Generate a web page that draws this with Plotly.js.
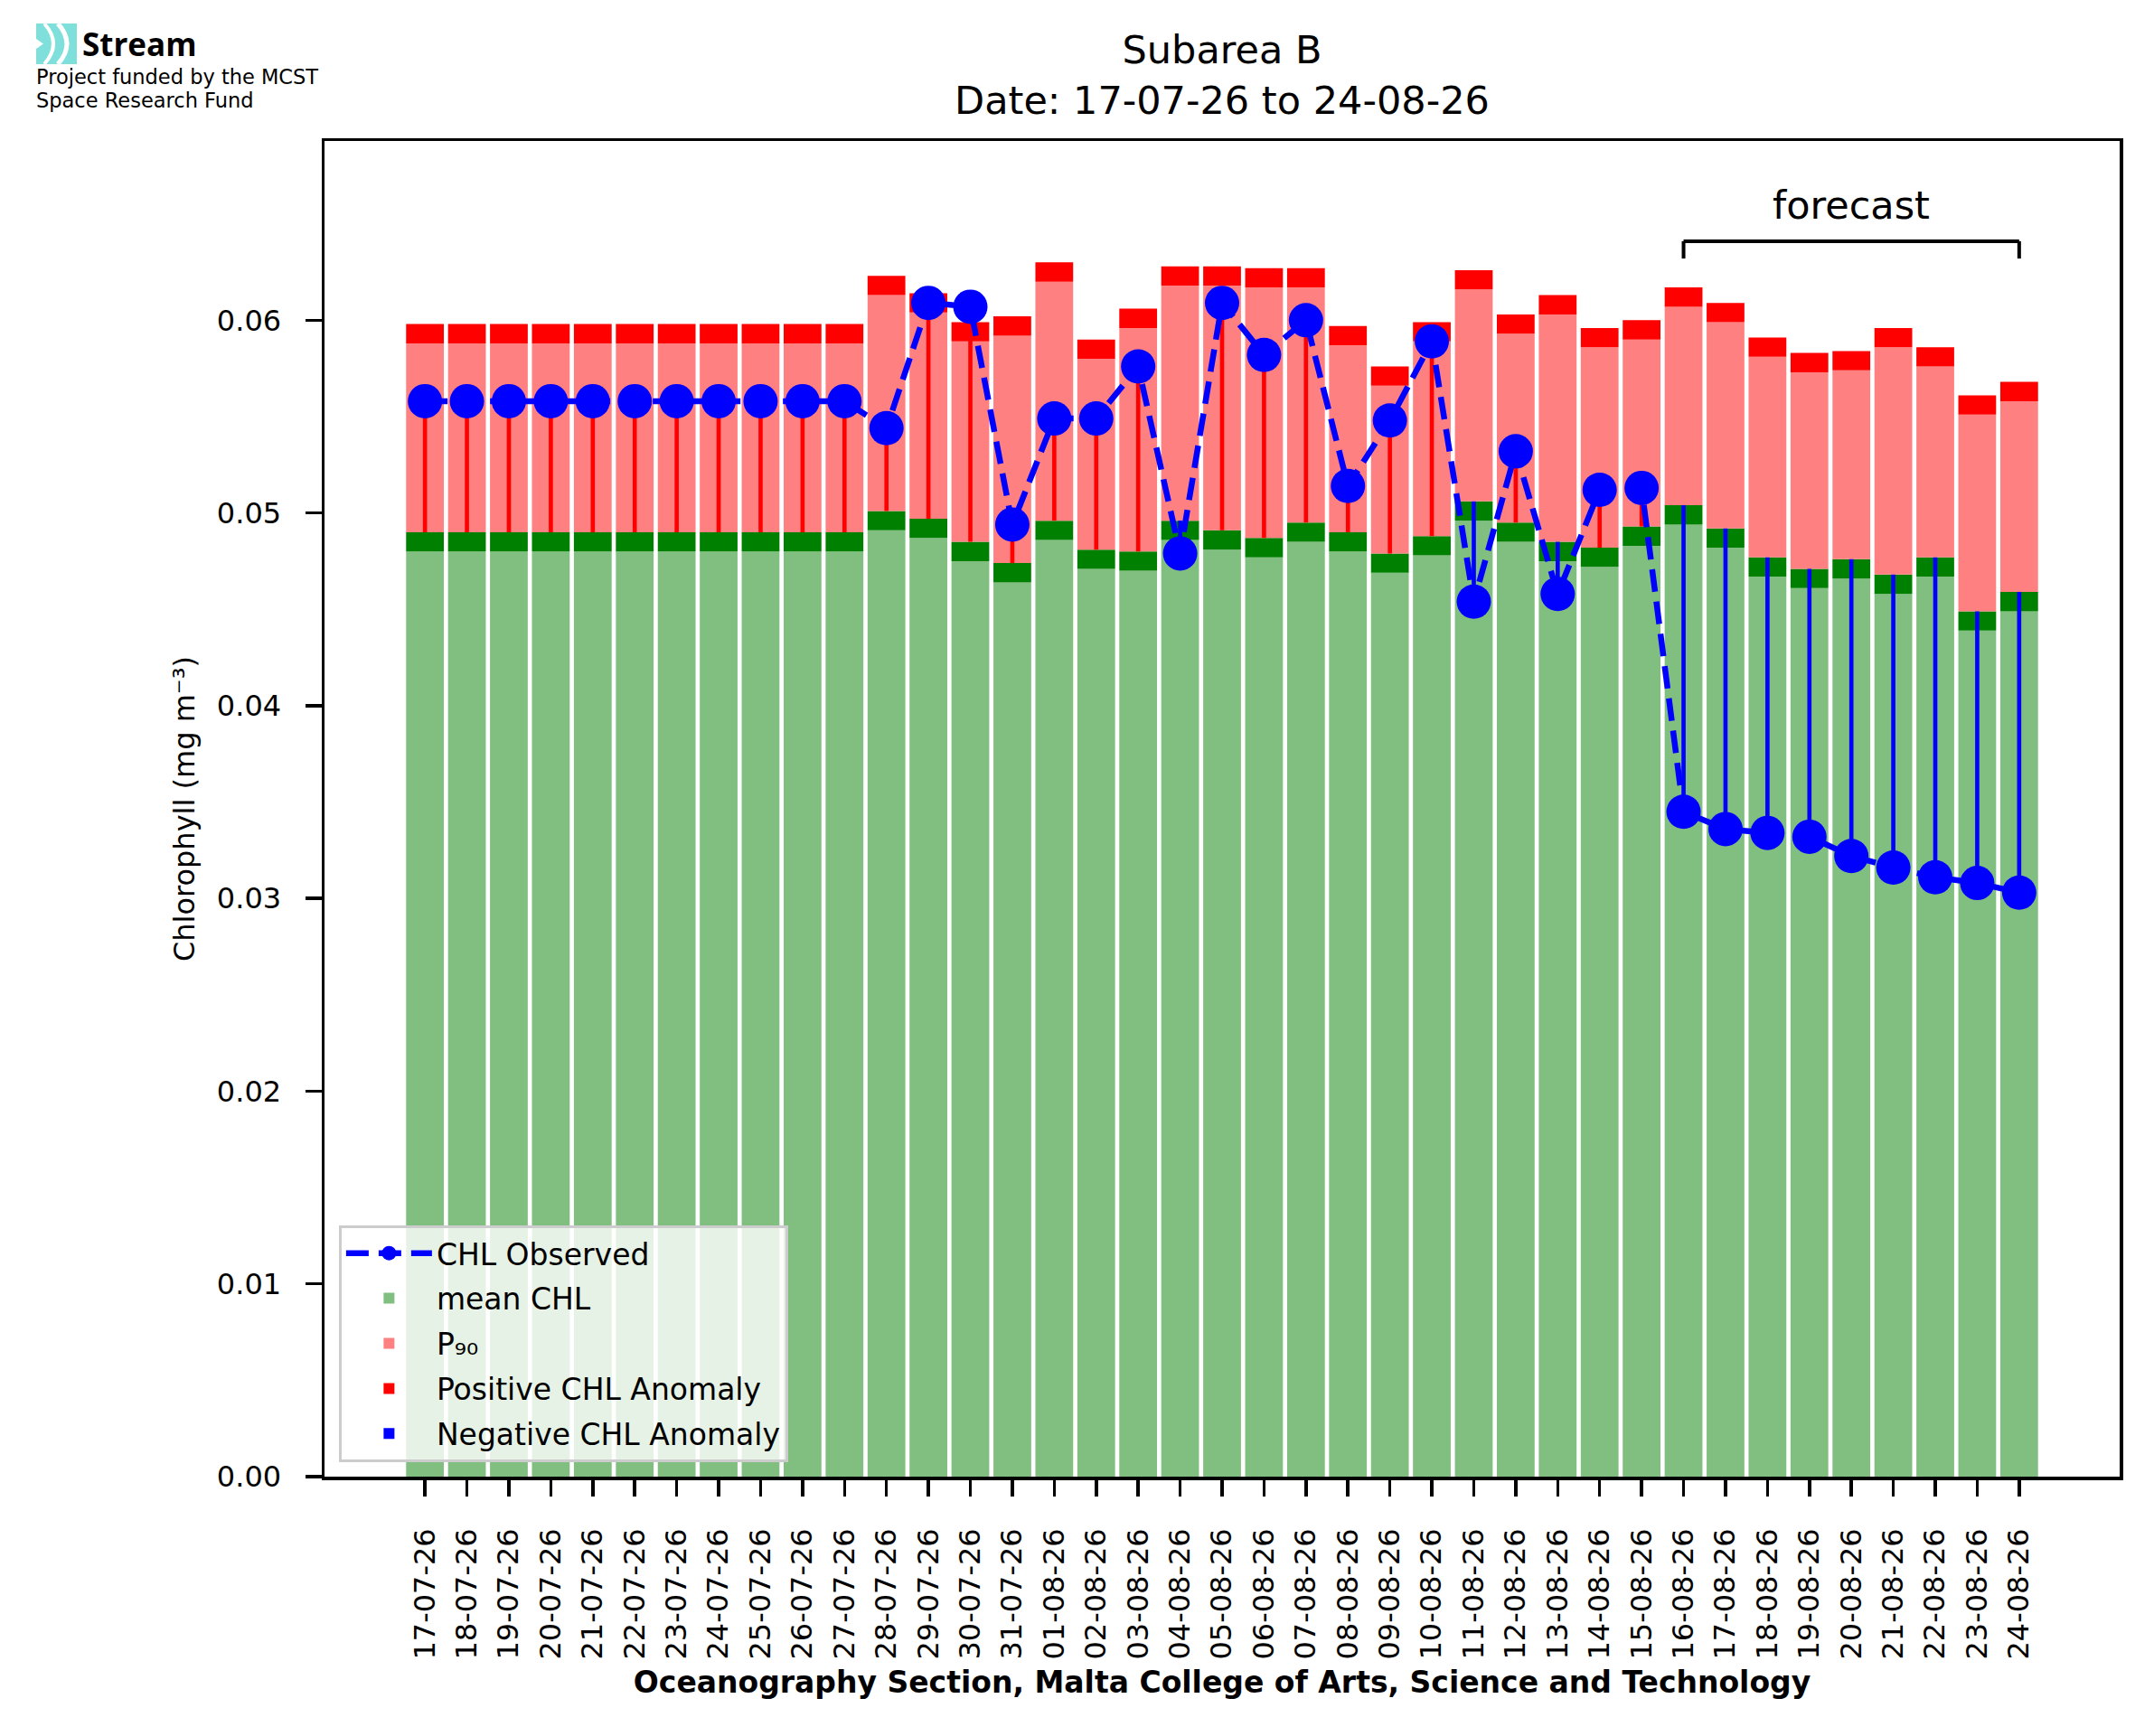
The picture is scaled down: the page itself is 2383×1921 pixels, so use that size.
<!DOCTYPE html>
<html>
<head>
<meta charset="utf-8">
<script src="https://cdn.plot.ly/plotly-3.0.1.min.js"></script>
<style>
  html, body { margin: 0; padding: 0; background: #fff; }
</style>
</head>
<body>
<div id="plot" style="width:2383px;height:1921px;"></div>
<script>
// values (mg m-3)
const dates = [
  '17-07-26', '18-07-26', '19-07-26', '20-07-26', '21-07-26', '22-07-26', '23-07-26',
  '24-07-26', '25-07-26', '26-07-26', '27-07-26', '28-07-26', '29-07-26', '30-07-26',
  '31-07-26', '01-08-26', '02-08-26', '03-08-26', '04-08-26', '05-08-26', '06-08-26',
  '07-08-26', '08-08-26', '09-08-26', '10-08-26', '11-08-26', '12-08-26', '13-08-26',
  '14-08-26', '15-08-26', '16-08-26', '17-08-26', '18-08-26', '19-08-26', '20-08-26',
  '21-08-26', '22-08-26', '23-08-26', '24-08-26'
]
const chlObserved = [
  0.0558, 0.0558, 0.0558, 0.0558, 0.0558, 0.0558, 0.0558,
  0.0558, 0.0558, 0.0558, 0.0558, 0.0544, 0.0609, 0.0607,
  0.0494, 0.0549, 0.0549, 0.0576, 0.0479, 0.0609, 0.0582,
  0.0600, 0.0514, 0.0548, 0.0589, 0.0454, 0.0532, 0.0458,
  0.0512, 0.0513, 0.0345, 0.0336, 0.0334, 0.0332, 0.0322,
  0.0316, 0.0311, 0.0308, 0.0303
]
const chlMean = [
  0.0490, 0.0490, 0.0490, 0.0490, 0.0490, 0.0490, 0.0490,
  0.0490, 0.0490, 0.0490, 0.0490, 0.0501, 0.0497, 0.0485,
  0.0474, 0.0496, 0.0481, 0.0480, 0.0496, 0.0491, 0.0487,
  0.0495, 0.0490, 0.0479, 0.0488, 0.0506, 0.0495, 0.0485,
  0.0482, 0.0493, 0.0504, 0.0492, 0.0477, 0.0471, 0.0476,
  0.0468, 0.0477, 0.0449, 0.0459
]
const chlP90 = [
  0.0598, 0.0598, 0.0598, 0.0598, 0.0598, 0.0598, 0.0598,
  0.0598, 0.0598, 0.0598, 0.0598, 0.0623, 0.0614, 0.0599,
  0.0602, 0.0630, 0.0590, 0.0606, 0.0628, 0.0628, 0.0627,
  0.0627, 0.0597, 0.0576, 0.0599, 0.0626, 0.0603, 0.0613,
  0.0596, 0.0600, 0.0617, 0.0609, 0.0591, 0.0583, 0.0584,
  0.0596, 0.0586, 0.0561, 0.0568
]
const forecastFrom = '16-08-26'
const subarea = 'Subarea B'

const BAND = 0.001 // thickness of the dark cap on each bar
const FONT = 'DejaVu Sans, sans-serif'
const W = 2383
const H = 1921
const margin = { l: 359, r: 38, t: 156, b: 287, pad: 0 }

const n = dates.length
const fi = dates.indexOf(forecastFrom)

// pixel -> paper helpers for the things that sit outside the axes
const px = x => (x - margin.l) / (W - margin.l - margin.r)
const py = y => (H - margin.b - y) / (H - margin.t - margin.b)

const bar = (extra) => Object.assign({
  type: 'bar',
  x: dates,
  width: 0.9,
  hoverinfo: 'skip'
}, extra)

const traces = [
  {
    type: 'scatter',
    mode: 'lines+markers',
    x: dates,
    y: chlObserved,
    name: 'CHL Observed',
    legendgroup: 'obs',
    line: { color: '#0000ff', width: 6.5, dash: '25px,11px' },
    marker: { color: '#0000ff', size: 38 }
  },
  bar({
    y: chlMean.map(v => v - BAND),
    base: chlMean.map(() => 0),
    name: 'mean CHL',
    legendgroup: 'mean',
    marker: { color: '#80bf80', line: { width: 0 } }
  }),
  bar({
    y: chlMean.map(() => BAND),
    base: chlMean.map(v => v - BAND),
    showlegend: false,
    legendgroup: 'mean',
    marker: { color: '#008000', line: { width: 0 } }
  }),
  bar({
    y: chlP90.map((v, i) => v - BAND - chlMean[i]),
    base: chlMean,
    name: 'P\u2089\u2080',
    legendgroup: 'p90',
    marker: { color: '#ff8080', line: { width: 0 } }
  }),
  bar({
    y: chlP90.map(() => BAND),
    base: chlP90.map(v => v - BAND),
    showlegend: false,
    legendgroup: 'p90',
    marker: { color: '#ff0000', line: { width: 0 } }
  }),
  bar({
    y: chlObserved.map((v, i) => v > chlMean[i] ? v - chlMean[i] : null),
    base: chlMean,
    width: 0.1,
    name: 'Positive CHL Anomaly',
    legendgroup: 'pos',
    marker: { color: '#ff0000', line: { width: 0 } }
  }),
  bar({
    y: chlObserved.map((v, i) => v < chlMean[i] ? chlMean[i] - v : null),
    base: chlObserved,
    width: 0.1,
    name: 'Negative CHL Anomaly',
    legendgroup: 'neg',
    marker: { color: '#0000ff', line: { width: 0 } }
  })
]

// matplotlib-like 5% margin around the bars
const span = (n - 1) + 0.9
const xRange = [-0.45 - 0.05 * span, n - 1 + 0.45 + 0.05 * span]

const bracketTop = 0.0641
const bracketFoot = 0.0632

const shapes = [
  { type: 'line', xref: 'x', yref: 'y', x0: fi, x1: n - 1, y0: bracketTop, y1: bracketTop },
  { type: 'line', xref: 'x', yref: 'y', x0: fi, x1: fi, y0: bracketTop, y1: bracketFoot },
  { type: 'line', xref: 'x', yref: 'y', x0: n - 1, x1: n - 1, y0: bracketTop, y1: bracketFoot }
].map(s => Object.assign(s, { line: { color: '#000', width: 4 } }))

// little Stream logo in the top left corner
const pathOf = pts => pts.map(([c, x, y]) => c + px(x) + ',' + py(y)).join(' ')
shapes.push(
  { type: 'rect', xref: 'paper', yref: 'paper', x0: px(40), x1: px(85), y0: py(71), y1: py(26),
    fillcolor: '#7fdfdb', line: { width: 0 } },
  { type: 'path', xref: 'paper', yref: 'paper',
    path: pathOf([['M', 49, 26], ['Q', 69, 48.5], [' ', 49, 71]]),
    line: { color: '#fff', width: 4 } },
  { type: 'path', xref: 'paper', yref: 'paper',
    path: pathOf([['M', 64, 26], ['Q', 84, 48.5], [' ', 64, 71]]),
    line: { color: '#fff', width: 5 } },
  { type: 'path', xref: 'paper', yref: 'paper',
    path: pathOf([['M', 40, 43], ['L', 48, 48.5], ['L', 40, 54]]) + ' Z',
    fillcolor: '#fff', line: { width: 0 } }
)

const annotations = [
  {
    xref: 'x', yref: 'y', x: (fi + n - 1) / 2, y: 0.06598,
    text: 'forecast', showarrow: false, xanchor: 'center', yanchor: 'middle',
    font: { family: FONT, size: 43, color: '#000' }
  },
  {
    xref: 'paper', yref: 'paper', x: px(89), y: py(48.1),
    text: 'Stream', showarrow: false, xanchor: 'left', yanchor: 'middle',
    font: { family: 'Open Sans, sans-serif', size: 35, weight: 'bold', color: '#000' }
  },
  {
    xref: 'paper', yref: 'paper', x: px(38), y: py(84.9),
    text: 'Project funded by the MCST', showarrow: false, xanchor: 'left', yanchor: 'middle',
    font: { family: FONT, size: 22.5, color: '#000' }
  },
  {
    xref: 'paper', yref: 'paper', x: px(38), y: py(110.5),
    text: 'Space Research Fund', showarrow: false, xanchor: 'left', yanchor: 'middle',
    font: { family: FONT, size: 22.5, color: '#000' }
  }
]

const layout = {
  width: W,
  height: H,
  margin: margin,
  paper_bgcolor: '#fff',
  plot_bgcolor: '#fff',
  font: { family: FONT, size: 32, color: '#000' },
  barmode: 'overlay',
  showlegend: true,
  title: {
    text: subarea + '<br>Date: ' + dates[0] + ' to ' + dates[n - 1],
    font: { size: 43 },
    xref: 'paper', x: 0.5, xanchor: 'center',
    yref: 'container', y: 1 - 70 / H, yanchor: 'middle'
  },
  xaxis: {
    type: 'category',
    range: xRange,
    tickmode: 'array',
    tickvals: dates,
    ticktext: dates,
    tickangle: -90,
    ticks: 'outside',
    ticklen: 18,
    tickwidth: 3.5,
    tickcolor: '#000',
    ticklabelstandoff: 23,
    tickfont: { size: 32 },
    showline: true,
    linecolor: '#000',
    linewidth: 3.5,
    mirror: true,
    showgrid: false,
    zeroline: false,
    title: {
      text: 'Oceanography Section, Malta College of Arts, Science and Technology',
      font: { size: 33, weight: 'bold' },
      standoff: 15
    }
  },
  yaxis: {
    range: [0, 0.0693],
    tick0: 0,
    dtick: 0.01,
    tickformat: '.2f',
    ticks: 'outside',
    ticklen: 18,
    tickwidth: 3.5,
    tickcolor: '#000',
    ticklabelstandoff: 20,
    tickfont: { size: 32 },
    showline: true,
    linecolor: '#000',
    linewidth: 3.5,
    mirror: true,
    showgrid: false,
    zeroline: false,
    title: {
      text: 'Chlorophyll (mg m\u207B\u00B3)',
      font: { size: 32 },
      standoff: 15
    }
  },
  legend: {
    x: 0.008,
    y: 0.011,
    xanchor: 'left',
    yanchor: 'bottom',
    bgcolor: 'rgba(255,255,255,0.8)',
    bordercolor: '#cccccc',
    borderwidth: 3,
    font: { size: 33 },
    itemwidth: 95,
    tracegroupgap: 4,
    traceorder: 'grouped'
  },
  shapes: shapes,
  annotations: annotations
}

Plotly.newPlot('plot', traces, layout, { displayModeBar: false, staticPlot: true })
</script>
</body>
</html>
